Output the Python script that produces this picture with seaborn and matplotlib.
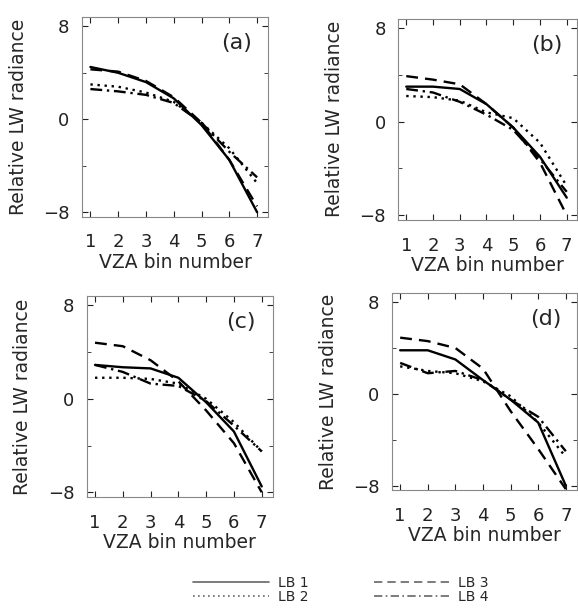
import numpy as np
import matplotlib.pyplot as plt
import seaborn as sns
import pandas as pd

sns.set_style("ticks")

bins = [1, 2, 3, 4, 5, 6, 7]
series = ['LB 1', 'LB 2', 'LB 3', 'LB 4']
panels = ['(a)', '(b)', '(c)', '(d)']

# relative LW radiance per VZA bin, one list per panel and series
a_lb1 = [4.5, 4.0, 3.2, 1.8, -0.5, -3.5, -8.0]
a_lb2 = [3.0, 2.8, 2.3, 1.5, -0.3, -2.5, -5.5]
a_lb3 = [4.3, 4.1, 3.3, 1.9, -0.3, -3.5, -7.5]
a_lb4 = [2.6, 2.4, 2.1, 1.4, -0.3, -2.8, -5.0]

b_lb1 = [3.0, 3.0, 2.8, 1.5, -0.5, -3.0, -6.5]
b_lb2 = [2.2, 2.1, 1.8, 0.8, 0.3, -1.8, -5.5]
b_lb3 = [3.9, 3.6, 3.2, 1.5, -0.5, -3.5, -8.0]
b_lb4 = [2.8, 2.5, 1.7, 0.6, -0.7, -3.2, -6.0]

c_lb1 = [2.9, 2.7, 2.6, 1.8, -0.3, -2.8, -7.5]
c_lb2 = [1.8, 1.8, 1.7, 1.3, 0.0, -2.0, -4.5]
c_lb3 = [4.8, 4.5, 3.3, 1.5, -1.0, -3.8, -8.0]
c_lb4 = [2.9, 2.3, 1.3, 1.1, -0.2, -2.3, -4.5]

d_lb1 = [3.8, 3.8, 3.0, 1.2, -0.5, -2.5, -8.0]
d_lb2 = [2.4, 2.0, 1.8, 1.1, -0.2, -2.5, -5.5]
d_lb3 = [4.9, 4.6, 4.0, 2.2, -1.5, -4.8, -8.3]
d_lb4 = [2.7, 1.8, 2.0, 1.2, -0.5, -2.0, -5.0]

panel_data = {
    '(a)': [a_lb1, a_lb2, a_lb3, a_lb4],
    '(b)': [b_lb1, b_lb2, b_lb3, b_lb4],
    '(c)': [c_lb1, c_lb2, c_lb3, c_lb4],
    '(d)': [d_lb1, d_lb2, d_lb3, d_lb4],
}

dashes = {'LB 1': '', 'LB 2': (1, 2), 'LB 3': (5, 3), 'LB 4': (5, 2, 1, 2)}

fig = plt.figure(figsize=(5.78, 6.09), dpi=100)
positions = [
    [0.142, 0.644, 0.322, 0.328],
    [0.689, 0.639, 0.310, 0.330],
    [0.150, 0.184, 0.322, 0.330],
    [0.678, 0.195, 0.320, 0.324],
]

for pos, name in zip(positions, panels):
    ax = fig.add_axes(pos)
    rows = []
    for s, vals in zip(series, panel_data[name]):
        for b, v in zip(bins, vals):
            rows.append({'bin': b, 'rad': v, 'LB': s})
    df = pd.DataFrame(rows)
    sns.lineplot(data=df, x='bin', y='rad', style='LB', dashes=dashes,
                 color='black', linewidth=1.7, ax=ax, legend=False)
    ax.set_xlim(0.7, 7.4)
    ax.set_ylim(-8.4, 8.8)
    ax.set_xticks(bins)
    ax.set_yticks([-8, 0, 8])
    ax.set_yticklabels(['\u22128', '0', '8'])
    ax.set_yticks([-4, 4], minor=True)
    ax.tick_params(direction='in', length=4, labelsize=13, pad=9, colors='#222222',
                   top=True, right=True)
    ax.tick_params(axis='x', pad=12)
    ax.tick_params(which='minor', direction='in', length=3, right=True)
    for sp in ax.spines.values():
        sp.set_color('#888888')
        sp.set_linewidth(0.8)
    ax.set_xlabel('VZA bin number', fontsize=13.5, labelpad=1)
    ax.set_ylabel('Relative LW radiance', fontsize=13.5, labelpad=11)
    ax.text(0.83, 0.87, name, transform=ax.transAxes, fontsize=16,
            ha='center', va='center')

handles = [plt.Line2D([], [], color='#666666', linewidth=1.2,
                      dashes=dashes[s] if dashes[s] else (None, None))
           for s in series]
handles[0] = plt.Line2D([], [], color='#666666', linewidth=1.2)
fig.legend(handles, series, ncol=2, loc='lower center', bbox_to_anchor=(0.59, -0.012),
           frameon=False, fontsize=10, handlelength=5.5, labelspacing=0.0,
           columnspacing=4.7, handletextpad=0.6)

fig.savefig('out.png', dpi=100)
